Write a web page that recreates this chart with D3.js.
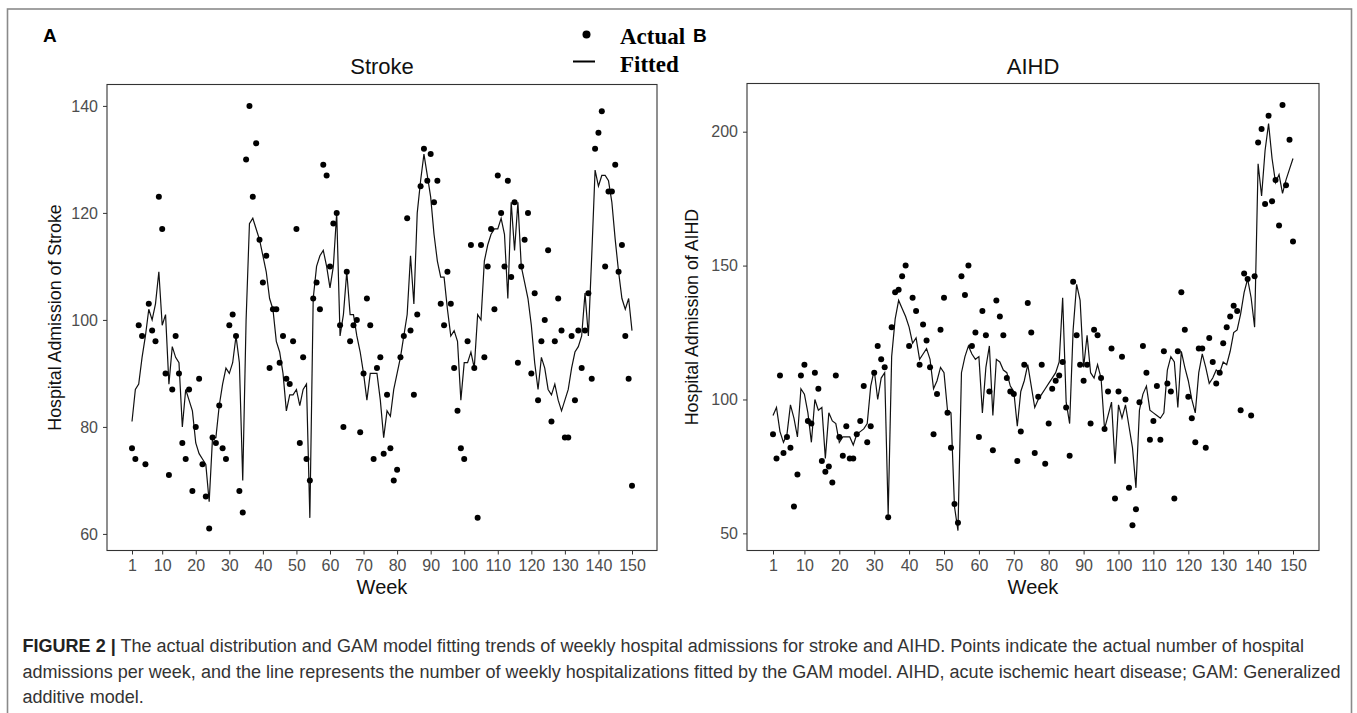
<!DOCTYPE html>
<html><head><meta charset="utf-8">
<script src="https://cdn.jsdelivr.net/npm/d3@7"></script>
<style>body{margin:0;background:#fff;} svg{display:block;}</style>
</head><body>
<svg id="chart" width="1357" height="713"></svg>
<script>
const weekTicks = [1,10,20,30,40,50,60,70,80,90,100,110,120,130,140,150];
const strokeYTicks = [60,80,100,120,140];
const aihdYTicks = [50,100,150,200];

const strokeActual = [76,74,99,97,73,103,98,96,123,117,
 90,71,87,97,90,77,74,87,68,80,
 89,73,67,61,78,77,84,76,74,99,
 101,97,68,64,130,140,123,133,115,107,
 112,91,102,102,92,97,89,88,96,117,
 77,93,74,70,104,107,102,129,127,110,
 118,120,99,80,109,96,99,100,79,90,
 104,99,74,91,93,75,86,76,70,72,
 93,97,119,98,86,101,125,132,126,131,
 122,126,103,99,109,103,91,83,76,74,
 96,114,91,63,114,93,110,117,102,127,
 120,110,126,108,122,92,110,115,120,90,
 105,85,96,100,113,81,96,104,98,78,
 78,97,85,98,91,98,105,89,132,135,
 139,110,124,124,129,109,114,97,89,69];

const strokeFitted = [81,87,88,93,97,102,100,103,109,99,
 101,88,95,93,92,80,87,85,83,77,
 75,74,73,66,78,78,84,88,91,90,
 92,97,92,70,100,118,119,117,115,112,
 109,104,102,96,94,90,83,86,86,87,
 84,87,88,63,104,110,112,113,110,106,
 110,120,97,101,109,101,101,97,94,90,
 85,90,90,90,85,78,83,82,87,90,
 93,97,101,112,103,120,126,131,127,123,
 116,111,108,108,102,97,98,96,85,92,
 92,94,91,101,100,111,114,116,117,117,
 119,116,104,122,113,122,110,107,104,99,
 92,87,93,91,87,86,88,85,83,85,
 87,91,94,95,97,105,97,112,128,125,
 127,127,126,122,115,109,104,102,104,98];

const aihdActual = [87,78,109,80,86,82,60,72,109,113,
 92,91,110,104,77,73,75,69,109,86,
 79,90,78,78,87,92,105,84,90,110,
 120,115,112,56,127,140,141,146,150,120,
 138,133,113,128,122,112,87,102,126,138,
 95,82,61,54,146,139,150,120,125,86,
 133,124,103,81,137,131,124,108,103,102,
 77,88,113,136,125,80,101,113,76,91,
 104,107,109,114,97,79,144,124,113,107,
 113,91,126,124,108,89,103,119,63,103,
 116,100,67,53,59,99,120,110,85,92,
 105,85,118,106,103,63,118,140,126,101,
 93,84,119,119,82,123,114,106,110,121,
 127,131,135,133,96,147,145,94,146,196,
 201,173,206,174,182,165,210,180,197,159];

const aihdFitted = [94,97,88,84,87,98,93,86,104,102,
 95,84,100,96,97,78,95,92,91,84,
 86,86,86,83,87,88,89,91,105,111,
 100,108,110,57,116,130,137,134,131,127,
 121,123,115,117,119,115,104,107,112,110,
 96,95,60,51,110,116,120,117,115,116,
 95,112,120,94,115,114,111,110,105,103,
 90,103,107,113,105,97,100,102,104,106,
 108,110,114,138,99,91,126,143,137,112,
 124,110,108,113,108,89,94,99,76,98,
 93,98,90,82,67,96,102,105,96,95,
 94,93,95,111,116,114,97,118,112,107,
 100,95,110,117,112,106,108,111,110,114,
 113,118,125,126,132,140,145,138,127,188,
 176,193,203,190,181,184,177,182,186,190];

const svg = d3.select('#chart');
const SANS = "'Liberation Sans', Arial, sans-serif";
const SERIF = "'Liberation Serif', 'Times New Roman', serif";

// outer figure border
svg.append('rect').attr('x',7.5).attr('y',9).attr('width',1344).attr('height',730)
  .attr('fill','none').attr('stroke','#8a8a8a').attr('stroke-width',1.6);

function panel(cfg){
  const x = d3.scaleLinear().domain([-6.45,157.45]).range([cfg.left,cfg.right]);
  const y = d3.scaleLinear().domain(cfg.yDomain).range([cfg.bottom,cfg.top]);
  const g = svg.append('g');

  const line = d3.line().x((d,i)=>x(i+1)).y(d=>y(d));
  g.append('path').datum(cfg.fitted).attr('d',line)
    .attr('fill','none').attr('stroke','#111').attr('stroke-width',1.2);
  g.append('g').selectAll('circle').data(cfg.actual).join('circle')
    .attr('cx',(d,i)=>x(i+1)).attr('cy',d=>y(d)).attr('r',3).attr('fill','#000');

  g.append('rect').attr('x',cfg.left).attr('y',cfg.top)
    .attr('width',cfg.right-cfg.left).attr('height',cfg.bottom-cfg.top)
    .attr('fill','none').attr('stroke','#333').attr('stroke-width',1.1);

  const xa = g.append('g').attr('transform',`translate(0,${cfg.bottom})`)
    .call(d3.axisBottom(x).tickValues(weekTicks).tickSize(4).tickPadding(5).tickFormat(d3.format('d')));
  xa.select('.domain').remove();
  xa.selectAll('line').attr('stroke','#333');
  xa.selectAll('text').attr('font-family',SANS).attr('font-size',16).attr('fill','#4d4d4d');

  const ya = g.append('g').attr('transform',`translate(${cfg.left},0)`)
    .call(d3.axisLeft(y).tickValues(cfg.yTicks).tickSize(4).tickPadding(5).tickFormat(d3.format('d')));
  ya.select('.domain').remove();
  ya.selectAll('line').attr('stroke','#333');
  ya.selectAll('text').attr('font-family',SANS).attr('font-size',16).attr('fill','#4d4d4d');

  g.append('text').attr('x',(cfg.left+cfg.right)/2).attr('y',74)
    .attr('text-anchor','middle').attr('font-family',SANS).attr('font-size',22)
    .attr('fill','#111').text(cfg.title);

  g.append('text').attr('x',x(75.5)).attr('y',594)
    .attr('text-anchor','middle').attr('font-family',SANS).attr('font-size',20)
    .attr('fill','#111').text('Week');

  g.append('text').attr('transform',`translate(${cfg.ytitleX},${(cfg.top+cfg.bottom)/2}) rotate(-90)`)
    .attr('text-anchor','middle').attr('dominant-baseline','central')
    .attr('font-family',SANS).attr('font-size',17.8).attr('fill','#111').text(cfg.ytitle);
}

panel({left:107,right:657,top:84.5,bottom:550.5,yDomain:[56.9,144.0],yTicks:strokeYTicks,
  actual:strokeActual,fitted:strokeFitted,title:'Stroke',ytitle:'Hospital Admission of Stroke',ytitleX:55});
panel({left:747,right:1319,top:83.5,bottom:550.5,yDomain:[43.6,218],yTicks:aihdYTicks,
  actual:aihdActual,fitted:aihdFitted,title:'AIHD',ytitle:'Hospital Admission of AIHD',ytitleX:692});

// panel letters
svg.append('text').attr('x',43).attr('y',42).attr('font-family',SANS).attr('font-weight','bold')
  .attr('font-size',19).attr('fill','#000').text('A');
svg.append('text').attr('x',693).attr('y',42).attr('font-family',SANS).attr('font-weight','bold')
  .attr('font-size',19).attr('fill','#000').text('B');

// legend
svg.append('circle').attr('cx',586.5).attr('cy',34.5).attr('r',4).attr('fill','#000');
svg.append('line').attr('x1',573).attr('x2',595).attr('y1',61.5).attr('y2',61.5)
  .attr('stroke','#000').attr('stroke-width',2);
svg.append('text').attr('x',620).attr('y',43.5).attr('font-family',SERIF).attr('font-weight','bold')
  .attr('font-size',23).attr('fill','#000').text('Actual');
svg.append('text').attr('x',620).attr('y',72).attr('font-family',SERIF).attr('font-weight','bold')
  .attr('font-size',23).attr('fill','#000').text('Fitted');

// caption
const capLines = [
  [['FIGURE 2 |', true], [' The actual distribution and GAM model fitting trends of weekly hospital admissions for stroke and AIHD. Points indicate the actual number of hospital', false]],
  [['admissions per week, and the line represents the number of weekly hospitalizations fitted by the GAM model. AIHD, acute ischemic heart disease; GAM: Generalized', false]],
  [['additive model.', false]]
];
const capY = [652, 678, 703];
const capNodes = capLines.map((parts,i)=>{
  const t = svg.append('text').attr('x',22.5).attr('y',capY[i])
    .attr('font-family',SANS).attr('font-size',17).attr('fill','#333');
  parts.forEach(([s,b])=>{
    t.append('tspan').attr('font-weight', b ? 'bold' : 'normal').attr('fill', b ? '#222' : '#333').text(s);
  });
  return t;
});
const w1 = capNodes[0].node().getComputedTextLength();
const w2 = capNodes[1].node().getComputedTextLength();
const fs = 17 * ((1286 / w1) + (1315 / w2)) / 2;
capNodes.forEach(t=>t.attr('font-size', fs));
</script>
</body></html>
